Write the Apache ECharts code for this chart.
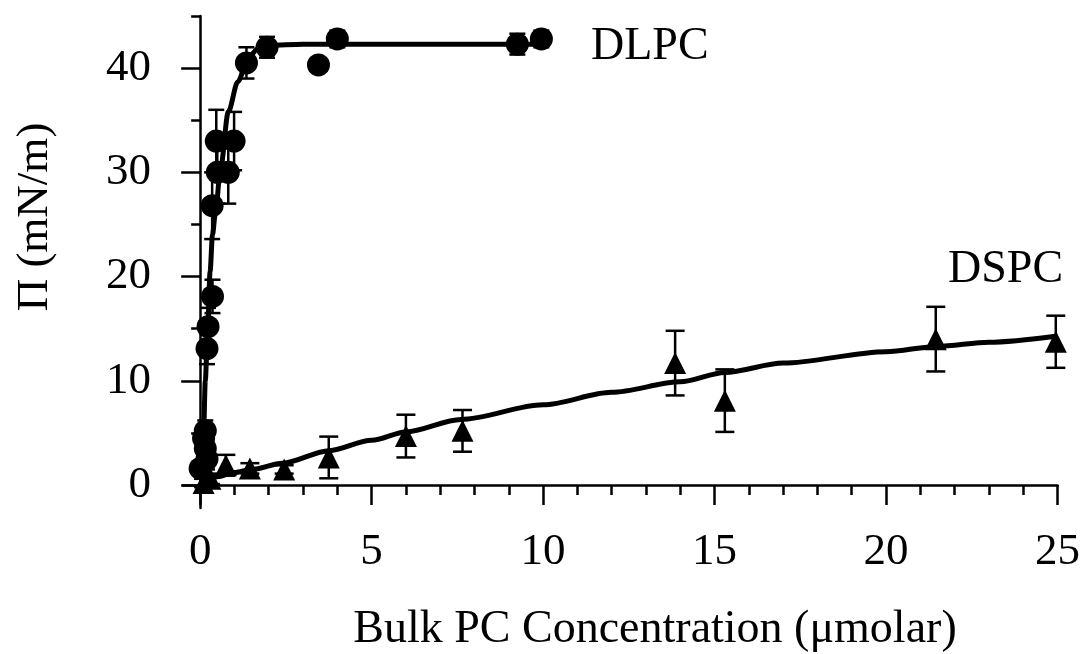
<!DOCTYPE html>
<html>
<head>
<meta charset="utf-8">
<script src="https://cdn.jsdelivr.net/npm/echarts@6/dist/echarts.min.js"></script>
<style>
  html, body { margin: 0; padding: 0; background: #fff; }
  #chart { width: 1083px; height: 654px; }
</style>
</head>
<body>
<div id="chart"></div>
<script>
// ---- data ----
const xMajorTicks = [0, 5, 10, 15, 20, 25];
const xMinorTicks = [1, 2, 3, 4, 6, 7, 8, 9, 11, 12, 13, 14, 16, 17, 18, 19, 21, 22, 23, 24];
const yMajorTicks = [0, 10, 20, 30, 40];
const yMinorTicks = [5, 15, 25, 35, 45];

const dlpcX   = [0.0, 0.1, 0.15, 0.15, 0.2, 0.2, 0.23, 0.36, 0.35, 0.47, 0.5, 0.82, 0.99, 1.35, 1.95, 3.45, 4.0, 9.25, 9.95];
const dlpcY   = [1.6, 4.5, 5.2, 3.5, 2.5, 13.1, 15.2, 18.1, 26.8, 33.0, 30.0, 30.0, 33.0, 40.5, 42.0, 40.3, 42.8, 42.3, 42.8];
const dlpcErr = [0.5, 1.0, 1.0, 1.0, 1.0, 1.5, 1.8, 1.6, 3.2, 3.0, 3.0, 3.0, 2.8, 1.5, 1.0, 0, 0.8, 1.0, 0.8];

const dspcX   = [0.1, 0.3, 0.75, 1.45, 2.45, 3.75, 6.0, 7.65, 13.85, 15.3, 21.45, 24.95];
const dspcY   = [0.2, 0.6, 1.9, 1.6, 1.5, 2.65, 4.7, 5.2, 11.7, 8.1, 14.0, 13.75];
const dspcErr = [0.4, 0.5, 1.0, 0.5, 0.4, 2.0, 2.05, 2.0, 3.1, 3.0, 3.1, 2.5];

const dlpcFitX = [0.05, 0.1, 0.15, 0.22, 0.29, 0.36, 0.44, 0.6, 0.82, 1.1, 1.4, 1.7, 2.0, 3.0, 10.0];
const dlpcFitY = [0, 5, 10, 15, 20.5, 24, 26, 30.5, 35.8, 38.7, 41.0, 41.9, 42.2, 42.3, 42.3];

const dspcFitX = [0.1, 0.5, 1, 1.5, 2.4, 3.76, 5, 6, 7.6, 10, 12, 14, 15.3, 17, 20, 21.5, 23, 25];
const dspcFitY = [0.4, 0.8, 1.2, 1.5, 2.1, 3.3, 4.3, 5.1, 6.3, 7.7, 8.9, 9.9, 10.8, 11.7, 12.8, 13.3, 13.7, 14.3];

const xTitle = 'Bulk PC Concentration (\u03bcmolar)';
const yTitle = '\u03a0 (mN/m)';
const labelDLPC = 'DLPC';
const labelDSPC = 'DSPC';

// ---- build ----
const FONT = '"Liberation Serif", "Times New Roman", serif';
const zip = (a, b) => a.map((v, i) => [v, b[i]]);
const zip3 = (a, b, c) => a.map((v, i) => [v, b[i], c[i]]);

function errRender(capHalf) {
  return function (params, api) {
    const x = api.value(0), y = api.value(1), e = api.value(2);
    if (!e) return null;
    const top = api.coord([x, y + e]);
    const bot = api.coord([x, y - e]);
    const st = { stroke: '#000', lineWidth: 2.5 };
    return {
      type: 'group',
      children: [
        { type: 'line', shape: { x1: top[0], y1: top[1], x2: bot[0], y2: bot[1] }, style: st },
        { type: 'line', shape: { x1: top[0] - capHalf, y1: top[1], x2: top[0] + capHalf, y2: top[1] }, style: st },
        { type: 'line', shape: { x1: bot[0] - capHalf, y1: bot[1], x2: bot[0] + capHalf, y2: bot[1] }, style: st }
      ]
    };
  };
}

const chart = echarts.init(document.getElementById('chart'), null, { renderer: 'canvas' });

const axisCommon = {
  type: 'value',
  splitLine: { show: false },
};

chart.setOption({
  animation: false,
  backgroundColor: '#fff',
  grid: { left: 183, right: 25, top: 16, bottom: 146, containLabel: false },
  xAxis: [
    Object.assign({}, axisCommon, {
      min: -0.5, max: 25, position: 'bottom',
      axisLine: { show: true, lineStyle: { color: '#000', width: 2.5 } },
      axisTick: { show: true, customValues: xMajorTicks, length: 20, inside: false, lineStyle: { color: '#000', width: 2.5 } },
      axisLabel: { show: true, customValues: xMajorTicks, margin: 22, color: '#000', fontFamily: FONT, fontSize: 45 }
    }),
    Object.assign({}, axisCommon, {
      min: -0.5, max: 25, position: 'bottom', offset: 0,
      axisLine: { show: false },
      axisTick: { show: true, customValues: xMinorTicks, length: 10, inside: false, lineStyle: { color: '#000', width: 2.5 } },
      axisLabel: { show: false }
    })
  ],
  yAxis: [
    Object.assign({}, axisCommon, {
      min: -2.2, max: 45, position: 'left',
      axisLine: { show: true, lineStyle: { color: '#000', width: 2.5 } },
      axisTick: { show: true, customValues: yMajorTicks, length: 19, inside: false, lineStyle: { color: '#000', width: 2.5 } },
      axisLabel: { show: true, customValues: yMajorTicks, margin: 32, color: '#000', fontFamily: FONT, fontSize: 45 }
    }),
    Object.assign({}, axisCommon, {
      min: -2.2, max: 45, position: 'left', offset: 0,
      axisLine: { show: false },
      axisTick: { show: true, customValues: yMinorTicks, length: 9, inside: false, lineStyle: { color: '#000', width: 2.5 } },
      axisLabel: { show: false }
    })
  ],
  graphic: [
    { type: 'text', x: 655, y: 630, style: { text: xTitle, font: '46px ' + FONT, fill: '#000', align: 'center', verticalAlign: 'middle' } },
    { type: 'text', x: 35, y: 217, rotation: Math.PI / 2, style: { text: yTitle, font: '45px ' + FONT, fill: '#000', align: 'center', verticalAlign: 'middle' } },
    { type: 'text', x: 591, y: 47, style: { text: labelDLPC, font: '46px ' + FONT, fill: '#000', align: 'left', verticalAlign: 'middle' } },
    { type: 'text', x: 948, y: 270, style: { text: labelDSPC, font: '46px ' + FONT, fill: '#000', align: 'left', verticalAlign: 'middle' } }
  ],
  series: [
    {
      name: 'DLPC fit', type: 'line', xAxisIndex: 0, yAxisIndex: 0,
      data: zip(dlpcFitX, dlpcFitY), showSymbol: false, symbol: 'none',
      smooth: 0.3, smoothMonotone: 'x',
      lineStyle: { color: '#000', width: 5 }, z: 2
    },
    {
      name: 'DSPC fit', type: 'line', xAxisIndex: 0, yAxisIndex: 0,
      data: zip(dspcFitX, dspcFitY), showSymbol: false, symbol: 'none',
      smooth: 0.3, smoothMonotone: 'x',
      lineStyle: { color: '#000', width: 5 }, z: 2
    },
    {
      name: 'DLPC err', type: 'custom', xAxisIndex: 0, yAxisIndex: 0,
      data: zip3(dlpcX, dlpcY, dlpcErr), renderItem: errRender(8),
      encode: { x: 0, y: 1 }, z: 3
    },
    {
      name: 'DSPC err', type: 'custom', xAxisIndex: 0, yAxisIndex: 0,
      data: zip3(dspcX, dspcY, dspcErr), renderItem: errRender(9.5),
      encode: { x: 0, y: 1 }, z: 3
    },
    {
      name: 'DLPC', type: 'scatter', xAxisIndex: 0, yAxisIndex: 0,
      data: zip(dlpcX, dlpcY), symbol: 'circle', symbolSize: 23,
      itemStyle: { color: '#000', opacity: 1 }, z: 4
    },
    {
      name: 'DSPC', type: 'scatter', xAxisIndex: 0, yAxisIndex: 0,
      data: zip(dspcX, dspcY), symbol: 'triangle', symbolSize: [22, 22],
      itemStyle: { color: '#000', opacity: 1 }, z: 4
    }
  ]
});
</script>
</body>
</html>
